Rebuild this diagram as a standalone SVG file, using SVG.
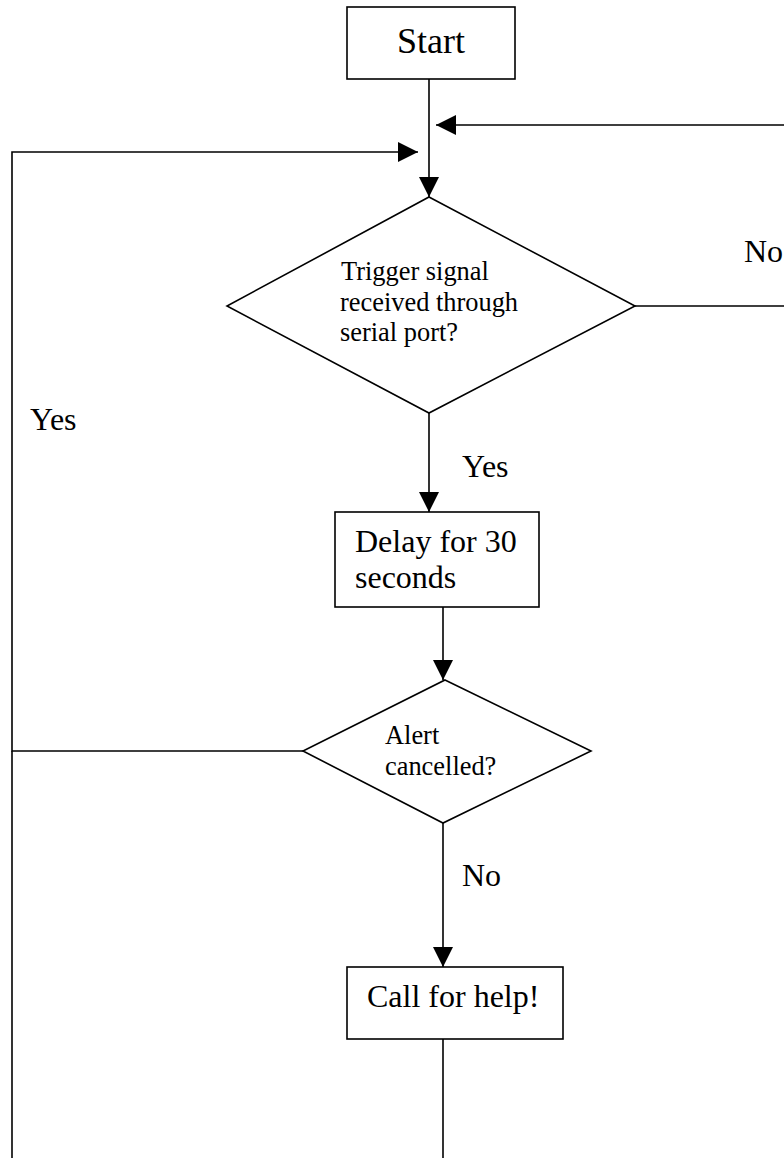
<svg xmlns="http://www.w3.org/2000/svg" width="784" height="1158" viewBox="0 0 784 1158">
  <style>
    .shape { fill: #ffffff; stroke: #000000; stroke-width: 1.6; }
    .wire { fill: none; stroke: #000000; stroke-width: 1.6; }
    .lbl { font-family: "Liberation Serif", "Times New Roman", serif; fill: #000000; }
    .big { font-size: 36px; }
    .mid { font-size: 32px; }
    .small { font-size: 26.4px; }
  </style>
  <defs>
    <marker id="arrow" markerUnits="userSpaceOnUse" markerWidth="20" markerHeight="20" refX="20" refY="10" orient="auto">
      <path d="M0,0 L20,10 L0,20 z" fill="#000000"/>
    </marker>
  </defs>
  <rect width="784" height="1158" fill="#ffffff"/>

  <!-- flow lines -->
  <g id="connectors">
    <path class="wire" d="M429,79 V197" marker-end="url(#arrow)"/>
    <path class="wire" d="M635,306 H790 V125 H436" marker-end="url(#arrow)"/>
    <path class="wire" d="M303,751 H12 V152 H418" marker-end="url(#arrow)"/>
    <path class="wire" d="M12,751 V1158"/>
    <path class="wire" d="M429,413 V512" marker-end="url(#arrow)"/>
    <path class="wire" d="M443,607 V680" marker-end="url(#arrow)"/>
    <path class="wire" d="M443,823 V967" marker-end="url(#arrow)"/>
    <path class="wire" d="M443,1039 V1158"/>
    <text class="lbl mid" x="744" y="262">No</text>
    <text class="lbl mid" x="30" y="430">Yes</text>
    <text class="lbl mid" x="462" y="477">Yes</text>
    <text class="lbl mid" x="462" y="886">No</text>
  </g>

  <g id="start">
    <rect class="shape" x="347" y="7" width="168" height="72"/>
    <text class="lbl big" x="431" y="53" text-anchor="middle">Start</text>
  </g>

  <g id="trigger-check">
    <polygon class="shape" points="429,197 635,306 429,413 227,306"/>
    <text class="lbl small" x="341" y="280">Trigger signal</text>
    <text class="lbl small" x="340" y="311">received through</text>
    <text class="lbl small" x="340" y="341">serial port?</text>
  </g>

  <g id="delay">
    <rect class="shape" x="335" y="512" width="204" height="95"/>
    <text class="lbl mid" x="355" y="552">Delay for 30</text>
    <text class="lbl mid" x="355" y="588">seconds</text>
  </g>

  <g id="cancel-check">
    <polygon class="shape" points="445,680 591,751 443,823 303,751"/>
    <text class="lbl small" x="385" y="744">Alert</text>
    <text class="lbl small" x="385" y="775">cancelled?</text>
  </g>

  <g id="call-help">
    <rect class="shape" x="347" y="967" width="216" height="72"/>
    <text class="lbl mid" x="367" y="1007">Call for help!</text>
  </g>
</svg>
